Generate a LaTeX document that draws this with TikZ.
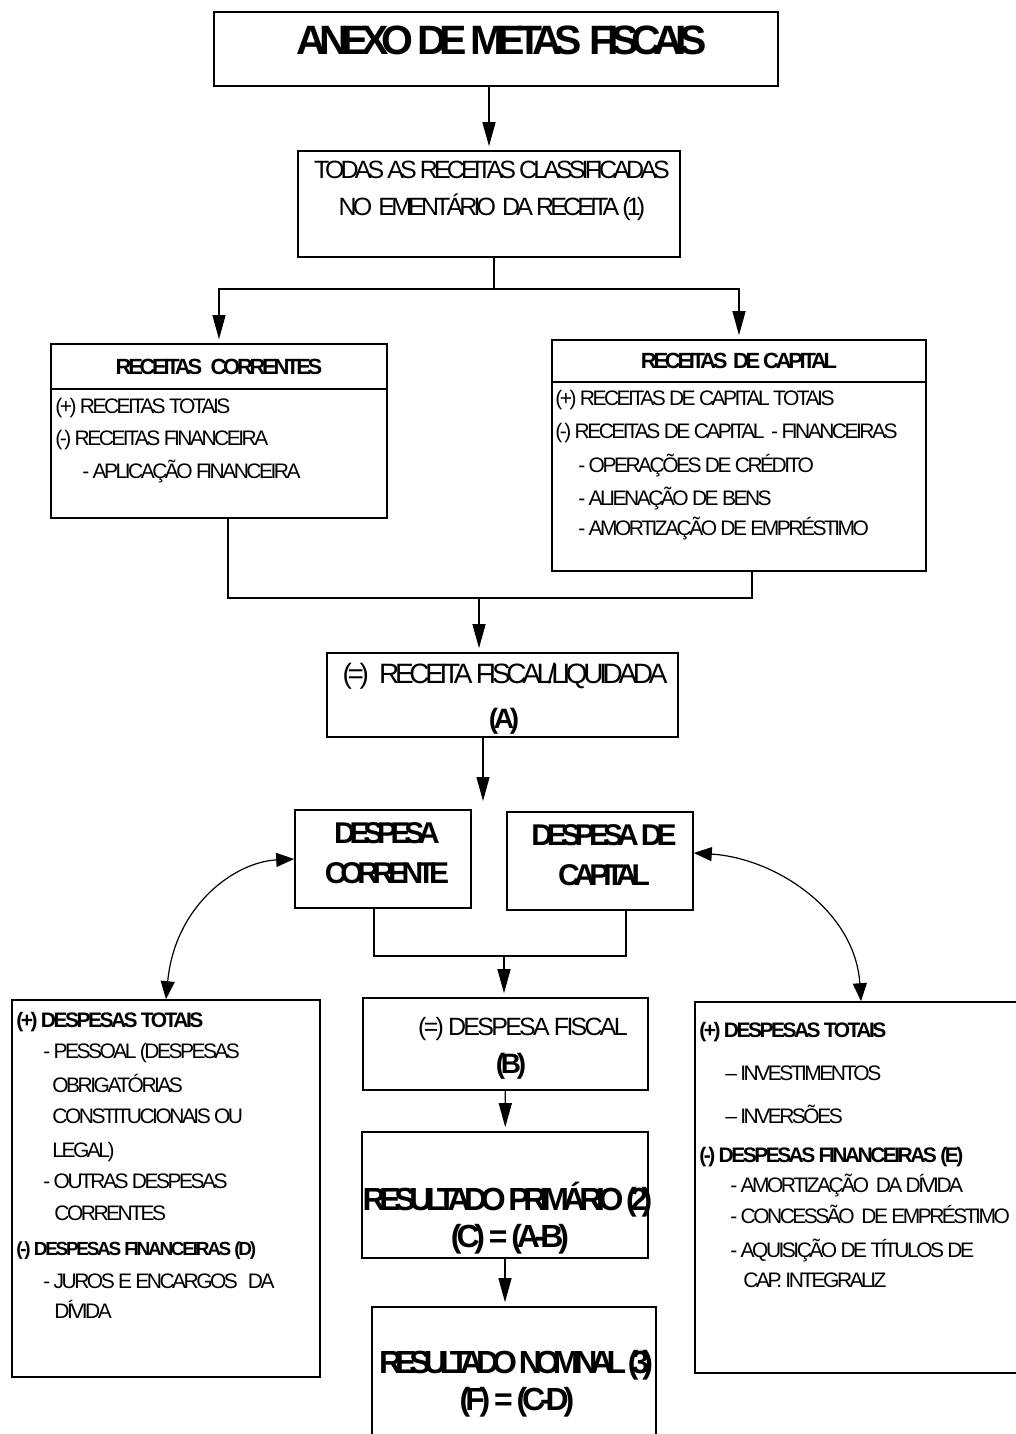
\documentclass[tikz,border=0pt]{standalone}
\usepackage{fontspec}
\setmainfont{Liberation Sans}[LetterSpace=-12]
\usetikzlibrary{arrows.meta}

\newcommand{\tight}[1]{\addfontfeature{LetterSpace=#1}}

\begin{document}
\begin{tikzpicture}[x=0.5pt, y=-0.5pt,
        box/.style={draw, line width=0.8pt, inner sep=0pt},
        txt/.style={inner sep=0pt, anchor=base},
        item/.style={inner sep=0pt, anchor=base west, font=\fontsize{10.5}{12}\selectfont},
        link/.style={line width=0.6pt},
        arr/.style={line width=0.6pt, -{Triangle[length=12pt, width=6.5pt]}, shorten >=2pt},
        dbl/.style={line width=0.6pt, {Triangle[length=9pt, width=7pt]}-{Triangle[length=9pt, width=7pt]}}]
    \useasboundingbox (0,0) rectangle (1016,1434);

    % boxes
    \node[box, minimum width=282pt, minimum height=37pt] (anexo) at (496,49) {};
    \node[box, minimum width=191pt, minimum height=53pt] (todas) at (489,204) {};
    \node[box, minimum width=168pt, minimum height=22.5pt, font=\bfseries\fontsize{11}{13}\selectfont\tight{-15}] (rchead) at (219,366.5) {RECEITAS~~ CORRENTES};
    \node[box, minimum width=168pt, minimum height=64.5pt] (rcbody) at (219,453.5) {};
    \node[box, minimum width=187pt, minimum height=21pt, font=\bfseries\fontsize{11}{13}\selectfont\tight{-15}] (rkhead) at (739,361) {RECEITAS~ DE CAPITAL};
    \node[box, minimum width=187pt, minimum height=94.5pt] (rkbody) at (739,476.5) {};
    \node[box, minimum width=175.5pt, minimum height=42pt] (liq) at (502.5,695) {};
    \node[box, minimum width=88pt, minimum height=49pt] (dc) at (383,859) {};
    \node[box, minimum width=93pt, minimum height=49pt] (dk) at (600,861) {};
    \node[box, minimum width=154pt, minimum height=188.5pt] (dcor) at (166,1188.5) {};
    \node[box, minimum width=142.5pt, minimum height=46pt] (fiscal) at (505.5,1044) {};
    \node[box, minimum width=143pt, minimum height=63pt] (primario) at (505,1195) {};
    \node[box, minimum width=142pt, minimum height=71.5pt] (nominal) at (514,1378.5) {};
    \node[box, minimum width=166pt, minimum height=185.5pt] (dcap) at (861,1187.5) {};

    % box texts
    \node[txt, font=\bfseries\fontsize{20.5}{24}\selectfont\tight{-18}] (anexo-t) at (502,55) {ANEXO DE METAS~ FISCAIS};
    \node[txt, font=\fontsize{12.5}{15}\selectfont\tight{-15.5}] (todas-t1) at (492,178) {TODAS AS RECEITAS CLASSIFICADAS};
    \node[txt, font=\fontsize{12.5}{15}\selectfont\tight{-15.5}] (todas-t2) at (492,215) {NO~ EMENTÁRIO~ DA RECEITA (1)};
    \node[txt, font=\fontsize{14}{16}\selectfont\tight{-15.5}] (liq-t1) at (505,683) {(=)~~ RECEITA FISCAL/LIQUIDADA};
    \node[txt, font=\bfseries\fontsize{14}{16}\selectfont\tight{-15}] (liq-t2) at (504,728) {(A)};
    \node[txt, font=\bfseries\fontsize{15}{17}\selectfont\tight{-21}] (dc-t1) at (387,843) {DESPESA};
    \node[txt, font=\bfseries\fontsize{15}{17}\selectfont\tight{-21}] (dc-t2) at (387,883) {CORRENTE};
    \node[txt, font=\bfseries\fontsize{15}{17}\selectfont\tight{-20}] (dk-t1) at (604,845) {DESPESA DE};
    \node[txt, font=\bfseries\fontsize{15}{17}\selectfont\tight{-20}] (dk-t2) at (604,885) {CAPITAL};
    \node[txt, font=\fontsize{12.5}{15}\selectfont\tight{-11}] (fiscal-t1) at (523,1035) {(=) DESPESA FISCAL};
    \node[txt, font=\bfseries\fontsize{14}{16}\selectfont\tight{-15}] (fiscal-t2) at (511,1073) {(B)};
    \node[txt, font=\bfseries\fontsize{16}{18}\selectfont\tight{-20}] (primario-t1) at (507.5,1210) {RESULTADO PRIMÁRIO (2)};
    \node[txt, font=\bfseries\fontsize{16}{18}\selectfont\tight{-16}] (primario-t2) at (510,1247) {(C) = (A-B)};
    \node[txt, font=\bfseries\fontsize{16}{18}\selectfont\tight{-22}] (nominal-t1) at (516,1373) {RESULTADO NOMINAL (3)};
    \node[txt, font=\bfseries\fontsize{16}{18}\selectfont\tight{-16}] (nominal-t2) at (517,1410) {(F) = (C-D)};

    % lists
    \foreach \x/\y/\t [count=\i] in {55/413/{(+) RECEITAS TOTAIS}, 55/445/{(-) RECEITAS FINANCEIRA},
            82/478/{- APLICAÇÃO FINANCEIRA}}
        \node[item] (rc-\i) at (\x,\y) {\t};
    \foreach \x/\y/\t [count=\i] in {555/405/{(+) RECEITAS DE CAPITAL TOTAIS}, 555/438/{(-) RECEITAS DE CAPITAL~ - FINANCEIRAS},
            578/472/{- OPERAÇÕES DE CRÉDITO}, 578/505/{- ALIENAÇÃO DE BENS}, 578/535/{- AMORTIZAÇÃO DE EMPRÉSTIMO}}
        \node[item] (rk-\i) at (\x,\y) {\t};
    \foreach \x/\y/\t [count=\i] in {16/1027/{\bfseries (+) DESPESAS TOTAIS}, 43/1058/{- PESSOAL (DESPESAS},
            52/1092/{OBRIGATÓRIAS}, 52/1123/{CONSTITUCIONAIS OU}, 52/1157/{LEGAL)}, 43/1188/{- OUTRAS DESPESAS},
            54/1220/{CORRENTES}, 16/1255/{\bfseries\fontsize{9.5}{11}\selectfont (-) DESPESAS FINANCEIRAS (D)},
            43/1288/{- JUROS E ENCARGOS~~ DA}, 54/1318/{DÍVIDA}}
        \node[item] (dcor-\i) at (\x,\y) {\t};
    \foreach \x/\y/\t [count=\i] in {699/1037/{\bfseries (+) DESPESAS TOTAIS}, 725/1080/{– INVESTIMENTOS},
            725/1123/{– INVERSÕES}, 699/1162/{\bfseries (-) DESPESAS FINANCEIRAS (E)},
            730/1192/{- AMORTIZAÇÃO~ DA DÍVIDA}, 730/1223/{- CONCESSÃO~ DE EMPRÉSTIMO},
            730/1257/{- AQUISIÇÃO DE TÍTULOS DE}, 743/1287/{CAP. INTEGRALIZ}}
        \node[item] (dcap-\i) at (\x,\y) {\t};

    % connectors
    \coordinate (rsplit) at (494,289);
    \coordinate (rjoin) at (479,598);
    \coordinate (dtip) at (483,805);
    \coordinate (djoin) at (504,956);
    \draw[arr] (anexo.south -| todas.north) -- (todas.north);
    \draw[link] (todas.south -| rsplit) -- (rsplit);
    \draw[arr] (rsplit) -| (rchead.north);
    \draw[arr] (rsplit) -| (rkhead.north);
    \draw[link] (rcbody.south -| 228,0) |- (rjoin) -| (rkbody.south -| 752,0);
    \draw[arr] (rjoin) -- (rjoin |- liq.north);
    \draw[arr] (liq.south -| dtip) -- (dtip);
    \draw[link] (dc.south -| 374,0) |- (djoin) -| (dk.south -| 626,0);
    \draw[arr] (djoin) -- (djoin |- fiscal.north);
    \draw[arr] (fiscal) -- (primario);
    \draw[arr] (primario.south) -- (primario.south |- nominal.north);
    \draw[dbl] (dc.west) .. controls (235,862) and (175,905) .. (dcor.north);
    \draw[dbl] ([yshift=4pt]dk.east) .. controls (775,858) and (855,910) .. (dcap.north);
\end{tikzpicture}
\end{document}
